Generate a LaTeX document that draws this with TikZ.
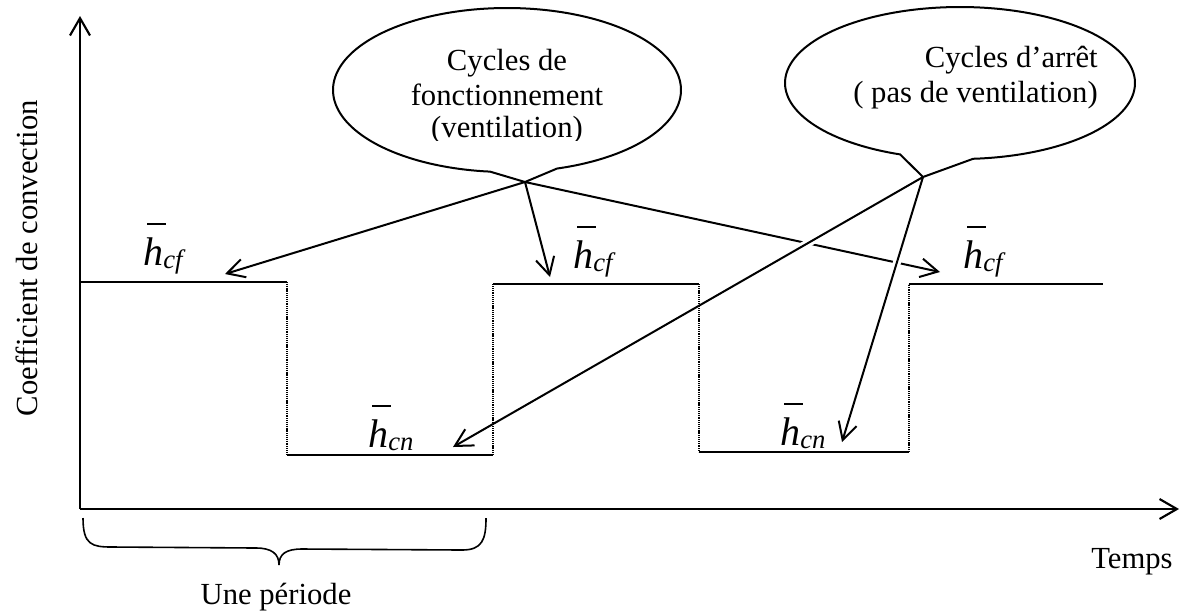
\documentclass[tikz,border=0pt]{standalone}
\usepackage{fontspec}
\setmainfont{Liberation Serif}
\usetikzlibrary{arrows.meta}
\newcommand{\hsym}[1]{\rlap{\kern0.1em\rule[1.0em]{0.48em}{0.05em}}\textit{h}\raisebox{-0.08em}{\fontsize{20}{20}\selectfont\textit{#1}}}
\begin{document}
\begin{tikzpicture}[x=0.75pt,y=-0.75pt,
  axisline/.style={line width=1.8pt,-{Straight Barb[length=13pt,width=15pt,line width=1.6pt]}},
  ptr/.style={line width=1.5pt,-{Straight Barb[length=13pt,width=14pt]}},
  halo/.style={draw=white,line width=6pt,shorten <=18pt,shorten >=30pt},
  level/.style={line width=1.5pt},
  jump/.style={line width=1.2pt,dash pattern=on 0.8pt off 0.6pt},
  callout/.style={line width=1.5pt},
  lbl/.style={font=\fontsize{23}{27}\selectfont,inner sep=0pt},
  hlab/.style={font=\fontsize{30}{30}\selectfont,inner sep=0pt,anchor=base west},
  bracestyle/.style={line width=1.2pt}
]
\useasboundingbox (0,0) rectangle (1180,612);

% named points
\coordinate (O) at (80,509);
\coordinate (Ytip) at (80,16);
\coordinate (Xtip) at (1179,509);
\coordinate (t1) at (525,182);
\coordinate (t2) at (923,177);
\coordinate (pf1) at (225,274);
\coordinate (pf2) at (550,277);
\coordinate (pf3) at (940,272);
\coordinate (pn1) at (453,447);
\coordinate (pn2) at (842,442);

% callouts
\draw[callout] plot[domain=95.6:433.3,samples=160,smooth] ({507+174*cos(\x)},{90+82*sin(\x)}) -- (t1) -- cycle;
\draw[callout] plot[domain=110:445.7,samples=160,smooth] ({960+175*cos(\x)},{83+76*sin(\x)}) -- (t2) -- cycle;

\begin{scope}
\clip (300,0) rectangle (720,140);
\node[lbl,anchor=base] (c1a) at (507,70) {Cycles de};
\node[lbl,anchor=base] (c1b) at (507,105) {fonctionnement};
\node[lbl,anchor=base] (c1c) at (507,137) {(ventilation)};
\end{scope}
\node[lbl,anchor=base east] (c2a) at (1098,67) {Cycles d’arrêt};
\node[lbl,anchor=base east] (c2b) at (1098,102) {( pas de ventilation)};

% pointers
\draw[ptr] (t1) -- (pf1);
\draw[ptr] (t1) -- (pf2);
\draw[ptr] (t1) -- (pf3);
\draw[halo] (t2) -- (pn1);
\draw[halo] (t2) -- (pn2);
\draw[ptr] (t2) -- (pn1);
\draw[ptr] (t2) -- (pn2);

% waveform
\draw[level] (80,282) -- (287,282);
\draw[jump] (287,282) -- (287,455);
\draw[level] (287,455) -- (493,455);
\draw[jump] (493,455) -- (493,284);
\draw[level] (493,284) -- (699,284);
\draw[jump] (699,284) -- (699,452);
\draw[level] (699,452) -- (909,452);
\draw[jump] (909,452) -- (909,284);
\draw[level] (909,284) -- (1103,284);

% axes
\draw[axisline] (O) -- (Ytip);
\draw[axisline] (O) -- (Xtip);

% brace
\draw[bracestyle] (83,518) .. controls (83,545) and (92,547) .. (112,547) -- (256,548)
  .. controls (272,548) and (279,554) .. (279,565)
  .. controls (279,554) and (286,549) .. (302,549) -- (462,550)
  .. controls (482,550) and (486,540) .. (486,518);

% labels
\node[hlab] (hf1) at (143,265) {\hsym{cf}};
\node[hlab] (hf2) at (573,268) {\hsym{cf}};
\node[hlab] (hf3) at (963,268) {\hsym{cf}};
\node[hlab] (hn1) at (368,447) {\hsym{cn}};
\node[hlab] (hn2) at (780,445) {\hsym{cn}};

\node[lbl,anchor=base,rotate=90] (ylab) at (37,258) {Coefficient de convection};
\node[lbl,anchor=base west] (xlab) at (1091,568) {Temps};
\node[lbl,anchor=base] (per) at (276,604) {Une période};
\end{tikzpicture}
\end{document}
